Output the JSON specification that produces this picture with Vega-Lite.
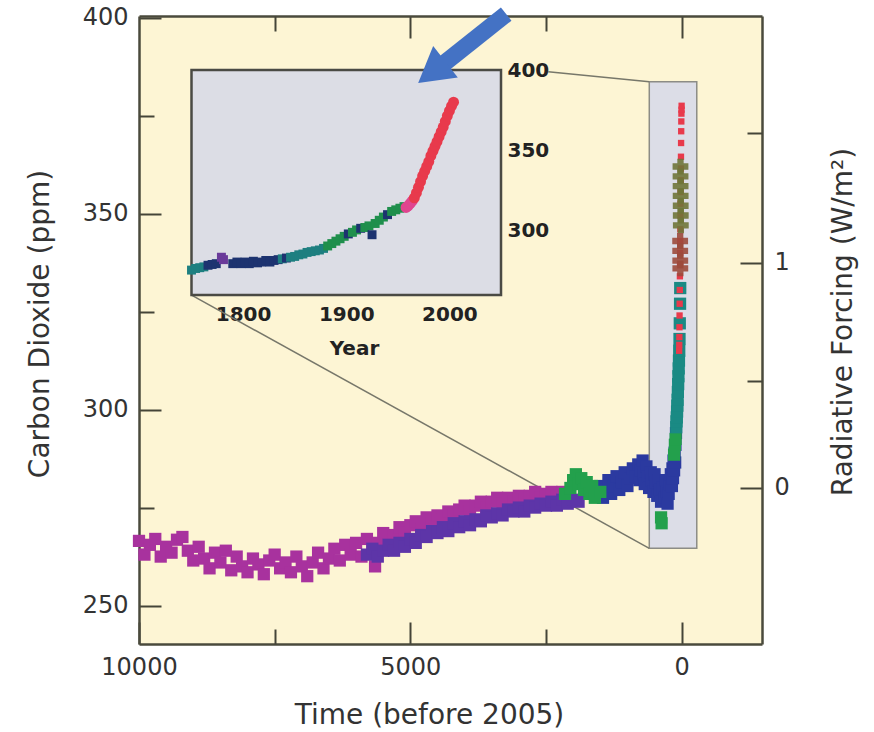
{
  "$schema": "https://vega.github.io/schema/vega-lite/v6.json",
  "width": 623,
  "height": 628,
  "autosize": {"type": "none"},
  "padding": {"left": 139, "top": 16, "right": 112, "bottom": 88},
  "background": "white",
  "config": {
    "view": {"fill": "#fdf5d4", "stroke": null},
    "axis": {"labelFont": "DejaVu Sans", "titleFont": "DejaVu Sans", "labelColor": "#333333", "titleColor": "#333333", "tickColor": "#444438", "domainColor": "#4a4a3c", "grid": false, "labelFlush": false, "labelOverlap": false, "zindex": 1, "tickWidth": 2, "domainWidth": 2.5}
  },
  "datasets": {
    "dummy": [{"t": 0, "co2": 300, "year": 1900}],
    "zoombox": [{"t": 597, "t2": -278, "co2": 264.6, "co2b": 383.6}],
    "connectors": [
      {"t": 2460, "co2": 386.2, "t2": 597, "co2b": 383.6},
      {"t": 9032, "co2": 329.2, "t2": 597, "co2b": 264.6}
    ],
    "main": [
      {"t": 10000, "co2": 266.5, "src": "epica"}, {"t": 9900, "co2": 263.0, "src": "epica"}, {"t": 9800, "co2": 265.5, "src": "epica"}, {"t": 9700, "co2": 267.0, "src": "epica"}, {"t": 9600, "co2": 262.5, "src": "epica"}, {"t": 9500, "co2": 265.0, "src": "epica"}, {"t": 9400, "co2": 263.5, "src": "epica"}, {"t": 9300, "co2": 266.8, "src": "epica"}, {"t": 9200, "co2": 267.5, "src": "epica"}, {"t": 9100, "co2": 264.0, "src": "epica"}, {"t": 9000, "co2": 261.5, "src": "epica"}, {"t": 8900, "co2": 265.0, "src": "epica"}, {"t": 8800, "co2": 262.0, "src": "epica"}, {"t": 8700, "co2": 259.5, "src": "epica"}, {"t": 8600, "co2": 263.5, "src": "epica"}, {"t": 8500, "co2": 261.0, "src": "epica"}, {"t": 8400, "co2": 264.0, "src": "epica"}, {"t": 8300, "co2": 259.0, "src": "epica"}, {"t": 8200, "co2": 262.5, "src": "epica"}, {"t": 8100, "co2": 260.0, "src": "epica"}, {"t": 8000, "co2": 258.5, "src": "epica"}, {"t": 7900, "co2": 262.0, "src": "epica"}, {"t": 7800, "co2": 260.5, "src": "epica"}, {"t": 7700, "co2": 258.0, "src": "epica"}, {"t": 7600, "co2": 261.5, "src": "epica"}, {"t": 7500, "co2": 263.0, "src": "epica"}, {"t": 7400, "co2": 259.5, "src": "epica"}, {"t": 7300, "co2": 261.0, "src": "epica"}, {"t": 7200, "co2": 258.5, "src": "epica"}, {"t": 7100, "co2": 262.5, "src": "epica"}, {"t": 7000, "co2": 260.0, "src": "epica"}, {"t": 6900, "co2": 257.5, "src": "epica"}, {"t": 6800, "co2": 261.0, "src": "epica"}, {"t": 6700, "co2": 263.5, "src": "epica"}, {"t": 6600, "co2": 259.5, "src": "epica"}, {"t": 6500, "co2": 262.0, "src": "epica"}, {"t": 6400, "co2": 264.5, "src": "epica"}, {"t": 6300, "co2": 261.5, "src": "epica"}, {"t": 6200, "co2": 265.5, "src": "epica"}, {"t": 6100, "co2": 263.0, "src": "epica"}, {"t": 6000, "co2": 266.0, "src": "epica"}, {"t": 5900, "co2": 262.5, "src": "epica"}, {"t": 5800, "co2": 267.0, "src": "epica"}, {"t": 5700, "co2": 264.5, "src": "epica"}, {"t": 5650, "co2": 260.0, "src": "epica"}, {"t": 5600, "co2": 266.0, "src": "epica"}, {"t": 5500, "co2": 268.5, "src": "epica"}, {"t": 5400, "co2": 265.5, "src": "epica"}, {"t": 5300, "co2": 268.0, "src": "epica"}, {"t": 5200, "co2": 270.0, "src": "epica"}, {"t": 5100, "co2": 268.5, "src": "epica"}, {"t": 5000, "co2": 270.5, "src": "epica"}, {"t": 4900, "co2": 271.5, "src": "epica"}, {"t": 4800, "co2": 269.5, "src": "epica"}, {"t": 4700, "co2": 272.5, "src": "epica"}, {"t": 4600, "co2": 271.0, "src": "epica"}, {"t": 4500, "co2": 273.0, "src": "epica"}, {"t": 4400, "co2": 272.0, "src": "epica"}, {"t": 4300, "co2": 274.0, "src": "epica"}, {"t": 4200, "co2": 273.0, "src": "epica"}, {"t": 4100, "co2": 274.5, "src": "epica"}, {"t": 4000, "co2": 275.5, "src": "epica"}, {"t": 3900, "co2": 274.0, "src": "epica"}, {"t": 3800, "co2": 275.5, "src": "epica"}, {"t": 3700, "co2": 276.5, "src": "epica"}, {"t": 3600, "co2": 275.0, "src": "epica"}, {"t": 3500, "co2": 276.5, "src": "epica"}, {"t": 3400, "co2": 277.5, "src": "epica"}, {"t": 3300, "co2": 276.0, "src": "epica"}, {"t": 3200, "co2": 277.5, "src": "epica"}, {"t": 3100, "co2": 276.5, "src": "epica"}, {"t": 3000, "co2": 278.0, "src": "epica"}, {"t": 2900, "co2": 277.0, "src": "epica"}, {"t": 2800, "co2": 278.0, "src": "epica"}, {"t": 2700, "co2": 279.0, "src": "epica"}, {"t": 2600, "co2": 277.5, "src": "epica"}, {"t": 2500, "co2": 278.5, "src": "epica"}, {"t": 2400, "co2": 279.0, "src": "epica"}, {"t": 2300, "co2": 278.0, "src": "epica"}, {"t": 2200, "co2": 279.0, "src": "epica"}, {"t": 2100, "co2": 278.0, "src": "epica"},
      {"t": 5800, "co2": 263.0, "src": "taylor"}, {"t": 5700, "co2": 264.5, "src": "taylor"}, {"t": 5600, "co2": 262.5, "src": "taylor"}, {"t": 5500, "co2": 264.0, "src": "taylor"}, {"t": 5400, "co2": 265.5, "src": "taylor"}, {"t": 5300, "co2": 264.0, "src": "taylor"}, {"t": 5200, "co2": 266.0, "src": "taylor"}, {"t": 5100, "co2": 265.0, "src": "taylor"}, {"t": 5000, "co2": 267.0, "src": "taylor"}, {"t": 4900, "co2": 266.0, "src": "taylor"}, {"t": 4800, "co2": 268.0, "src": "taylor"}, {"t": 4700, "co2": 267.5, "src": "taylor"}, {"t": 4600, "co2": 269.0, "src": "taylor"}, {"t": 4500, "co2": 268.5, "src": "taylor"}, {"t": 4400, "co2": 270.0, "src": "taylor"}, {"t": 4300, "co2": 269.0, "src": "taylor"}, {"t": 4200, "co2": 271.0, "src": "taylor"}, {"t": 4100, "co2": 270.0, "src": "taylor"}, {"t": 4000, "co2": 271.5, "src": "taylor"}, {"t": 3900, "co2": 270.5, "src": "taylor"}, {"t": 3800, "co2": 272.0, "src": "taylor"}, {"t": 3700, "co2": 271.5, "src": "taylor"}, {"t": 3600, "co2": 273.0, "src": "taylor"}, {"t": 3500, "co2": 272.5, "src": "taylor"}, {"t": 3400, "co2": 273.5, "src": "taylor"}, {"t": 3300, "co2": 273.0, "src": "taylor"}, {"t": 3200, "co2": 274.5, "src": "taylor"}, {"t": 3100, "co2": 274.0, "src": "taylor"}, {"t": 3000, "co2": 275.0, "src": "taylor"}, {"t": 2900, "co2": 274.0, "src": "taylor"}, {"t": 2800, "co2": 275.5, "src": "taylor"}, {"t": 2700, "co2": 275.0, "src": "taylor"}, {"t": 2600, "co2": 276.0, "src": "taylor"}, {"t": 2500, "co2": 275.5, "src": "taylor"}, {"t": 2400, "co2": 276.5, "src": "taylor"}, {"t": 2300, "co2": 275.5, "src": "taylor"}, {"t": 2200, "co2": 277.0, "src": "taylor"}, {"t": 2100, "co2": 276.0, "src": "taylor"}, {"t": 2000, "co2": 277.0, "src": "taylor"}, {"t": 1900, "co2": 276.5, "src": "taylor"},
      {"t": 1550, "co2": 278.0, "src": "lawdome"}, {"t": 1500, "co2": 280.5, "src": "lawdome"}, {"t": 1450, "co2": 277.5, "src": "lawdome"}, {"t": 1400, "co2": 279.5, "src": "lawdome"}, {"t": 1350, "co2": 282.0, "src": "lawdome"}, {"t": 1300, "co2": 278.5, "src": "lawdome"}, {"t": 1250, "co2": 280.5, "src": "lawdome"}, {"t": 1200, "co2": 283.0, "src": "lawdome"}, {"t": 1150, "co2": 279.5, "src": "lawdome"}, {"t": 1100, "co2": 281.5, "src": "lawdome"}, {"t": 1050, "co2": 284.0, "src": "lawdome"}, {"t": 1000, "co2": 280.5, "src": "lawdome"}, {"t": 950, "co2": 282.5, "src": "lawdome"}, {"t": 900, "co2": 285.0, "src": "lawdome"}, {"t": 850, "co2": 283.0, "src": "lawdome"}, {"t": 800, "co2": 286.0, "src": "lawdome"}, {"t": 780, "co2": 282.0, "src": "lawdome"}, {"t": 750, "co2": 284.5, "src": "lawdome"}, {"t": 720, "co2": 287.0, "src": "lawdome"}, {"t": 700, "co2": 283.5, "src": "lawdome"}, {"t": 680, "co2": 281.0, "src": "lawdome"}, {"t": 650, "co2": 285.5, "src": "lawdome"}, {"t": 620, "co2": 283.0, "src": "lawdome"}, {"t": 600, "co2": 280.0, "src": "lawdome"}, {"t": 570, "co2": 284.0, "src": "lawdome"}, {"t": 550, "co2": 282.0, "src": "lawdome"}, {"t": 520, "co2": 279.0, "src": "lawdome"}, {"t": 500, "co2": 283.5, "src": "lawdome"}, {"t": 480, "co2": 281.5, "src": "lawdome"}, {"t": 450, "co2": 278.0, "src": "lawdome"}, {"t": 420, "co2": 282.0, "src": "lawdome"}, {"t": 400, "co2": 279.5, "src": "lawdome"}, {"t": 380, "co2": 276.5, "src": "lawdome"}, {"t": 350, "co2": 280.0, "src": "lawdome"}, {"t": 320, "co2": 277.5, "src": "lawdome"}, {"t": 300, "co2": 282.0, "src": "lawdome"}, {"t": 280, "co2": 279.0, "src": "lawdome"}, {"t": 260, "co2": 276.0, "src": "lawdome"}, {"t": 240, "co2": 278.5, "src": "lawdome"}, {"t": 220, "co2": 281.0, "src": "lawdome"}, {"t": 200, "co2": 283.5, "src": "lawdome"}, {"t": 180, "co2": 280.5, "src": "lawdome"}, {"t": 170, "co2": 285.0, "src": "lawdome"}, {"t": 160, "co2": 282.5, "src": "lawdome"}, {"t": 150, "co2": 287.0, "src": "lawdome"}, {"t": 140, "co2": 284.5, "src": "lawdome"}, {"t": 130, "co2": 289.0, "src": "lawdome"}, {"t": 120, "co2": 286.5, "src": "lawdome"}, {"t": 115, "co2": 291.0, "src": "lawdome"}, {"t": 105, "co2": 294.0, "src": "lawdome"},
      {"t": 2150, "co2": 278.5, "src": "green"}, {"t": 2050, "co2": 280.0, "src": "green"}, {"t": 2000, "co2": 282.0, "src": "green"}, {"t": 1950, "co2": 283.5, "src": "green"}, {"t": 1900, "co2": 281.0, "src": "green"}, {"t": 1850, "co2": 282.5, "src": "green"}, {"t": 1800, "co2": 279.5, "src": "green"}, {"t": 1750, "co2": 281.5, "src": "green"}, {"t": 1700, "co2": 278.5, "src": "green"}, {"t": 1650, "co2": 280.5, "src": "green"}, {"t": 1600, "co2": 277.5, "src": "green"}, {"t": 1500, "co2": 279.0, "src": "green"}, {"t": 380, "co2": 272.5, "src": "green"}, {"t": 370, "co2": 271.0, "src": "green"}, {"t": 140, "co2": 288.5, "src": "green"}, {"t": 125, "co2": 291.0, "src": "green"}, {"t": 112, "co2": 292.5, "src": "green"},
      {"t": 100, "co2": 295.5, "src": "teal"}, {"t": 95, "co2": 297.0, "src": "teal"}, {"t": 90, "co2": 298.0, "src": "teal"}, {"t": 85, "co2": 299.5, "src": "teal"}, {"t": 80, "co2": 301.0, "src": "teal"}, {"t": 75, "co2": 302.5, "src": "teal"}, {"t": 70, "co2": 304.5, "src": "teal"}, {"t": 65, "co2": 306.5, "src": "teal"}, {"t": 60, "co2": 308.5, "src": "teal"}, {"t": 55, "co2": 310.5, "src": "teal"}, {"t": 50, "co2": 312.5, "src": "teal"}, {"t": 45, "co2": 315.0, "src": "teal"}, {"t": 40, "co2": 318.0, "src": "teal"}, {"t": 35, "co2": 322.0, "src": "teal"}, {"t": 30, "co2": 327.0, "src": "teal"}, {"t": 27, "co2": 331.0, "src": "teal"}
    ],
    "spike": [
      {"t": 47, "co2": 315.0, "src": "red"}, {"t": 45, "co2": 316.5, "src": "red"}, {"t": 43, "co2": 318.5, "src": "red"}, {"t": 41, "co2": 321.0, "src": "red"}, {"t": 39, "co2": 324.0, "src": "red"}, {"t": 37, "co2": 327.0, "src": "red"}, {"t": 35, "co2": 330.5, "src": "red"}, {"t": 33, "co2": 334.0, "src": "red"}, {"t": 31, "co2": 337.0, "src": "red"}, {"t": 29, "co2": 340.0, "src": "red"}, {"t": 27, "co2": 343.0, "src": "red"}, {"t": 25, "co2": 346.0, "src": "red"}, {"t": 23, "co2": 349.5, "src": "red"}, {"t": 21, "co2": 352.5, "src": "red"}, {"t": 19, "co2": 355.5, "src": "red"}, {"t": 17, "co2": 358.5, "src": "red"}, {"t": 15, "co2": 361.5, "src": "red"}, {"t": 13, "co2": 364.5, "src": "red"}, {"t": 11, "co2": 368.0, "src": "red"}, {"t": 9, "co2": 371.0, "src": "red"}, {"t": 7, "co2": 373.5, "src": "red"}, {"t": 5, "co2": 375.5, "src": "red"}, {"t": 3, "co2": 376.5, "src": "red"}, {"t": 1, "co2": 377.5, "src": "red"}
    ],
    "crosses": [
      {"t": 22, "co2": 362.0, "src": "olive"}, {"t": 21, "co2": 359.5, "src": "olive"}, {"t": 20, "co2": 357.0, "src": "olive"}, {"t": 19, "co2": 354.5, "src": "olive"}, {"t": 18, "co2": 352.0, "src": "olive"}, {"t": 17, "co2": 349.5, "src": "olive"}, {"t": 16, "co2": 347.0, "src": "olive"},
      {"t": 28, "co2": 343.0, "src": "brown"}, {"t": 27, "co2": 340.5, "src": "brown"}, {"t": 26, "co2": 338.0, "src": "brown"}, {"t": 25, "co2": 336.0, "src": "brown"}
    ],
    "insetbox": [{"year": 1750, "year2": 2050, "co2": 260, "co2b": 400}],
    "inset": [
      {"year": 1750, "co2": 275.5, "src": "iteal"}, {"year": 1754, "co2": 276.5, "src": "iteal"}, {"year": 1758, "co2": 277.0, "src": "iteal"}, {"year": 1762, "co2": 277.5, "src": "iteal"}, {"year": 1766, "co2": 278.5, "src": "inavy"}, {"year": 1770, "co2": 279.0, "src": "inavy"}, {"year": 1774, "co2": 279.5, "src": "inavy"}, {"year": 1779, "co2": 283.5, "src": "ipurple"}, {"year": 1781, "co2": 282.0, "src": "ipurple"},
      {"year": 1790, "co2": 279.5, "src": "inavy"}, {"year": 1794, "co2": 280.5, "src": "inavy"}, {"year": 1798, "co2": 279.5, "src": "inavy"}, {"year": 1802, "co2": 280.5, "src": "inavy"}, {"year": 1806, "co2": 279.5, "src": "inavy"}, {"year": 1810, "co2": 281.0, "src": "inavy"}, {"year": 1814, "co2": 280.0, "src": "inavy"}, {"year": 1818, "co2": 280.5, "src": "inavy"}, {"year": 1822, "co2": 281.5, "src": "inavy"}, {"year": 1826, "co2": 280.5, "src": "inavy"}, {"year": 1830, "co2": 281.5, "src": "inavy"}, {"year": 1834, "co2": 282.0, "src": "inavy"}, {"year": 1838, "co2": 282.5, "src": "iteal"}, {"year": 1842, "co2": 283.0, "src": "inavy"}, {"year": 1846, "co2": 283.5, "src": "iteal"},
      {"year": 1850, "co2": 284.0, "src": "iteal"}, {"year": 1854, "co2": 285.0, "src": "iteal"}, {"year": 1858, "co2": 285.5, "src": "iteal"}, {"year": 1862, "co2": 286.5, "src": "iteal"}, {"year": 1866, "co2": 287.0, "src": "iteal"}, {"year": 1870, "co2": 287.5, "src": "iteal"}, {"year": 1874, "co2": 288.0, "src": "iteal"}, {"year": 1878, "co2": 289.0, "src": "iteal"}, {"year": 1882, "co2": 290.5, "src": "igreen"}, {"year": 1886, "co2": 292.0, "src": "igreen"}, {"year": 1890, "co2": 293.5, "src": "igreen"}, {"year": 1894, "co2": 295.0, "src": "igreen"}, {"year": 1898, "co2": 296.5, "src": "igreen"}, {"year": 1902, "co2": 298.0, "src": "inavy"}, {"year": 1906, "co2": 299.0, "src": "igreen"}, {"year": 1910, "co2": 300.5, "src": "igreen"}, {"year": 1914, "co2": 301.5, "src": "inavy"}, {"year": 1918, "co2": 302.0, "src": "igreen"}, {"year": 1922, "co2": 303.0, "src": "igreen"}, {"year": 1925, "co2": 297.5, "src": "inavy"}, {"year": 1928, "co2": 304.5, "src": "igreen"}, {"year": 1932, "co2": 306.5, "src": "igreen"}, {"year": 1936, "co2": 308.5, "src": "igreen"}, {"year": 1940, "co2": 310.0, "src": "inavy"}, {"year": 1944, "co2": 312.0, "src": "igreen"}, {"year": 1948, "co2": 313.0, "src": "igreen"}, {"year": 1952, "co2": 314.0, "src": "igreen"}, {"year": 1956, "co2": 315.0, "src": "igreen"}
    ],
    "insetred": [
      {"year": 1958, "co2": 314.5, "src": "pink"}, {"year": 1960, "co2": 315.5, "src": "pink"}, {"year": 1962, "co2": 317.0, "src": "pink"}, {"year": 1964, "co2": 318.5, "src": "pink"}, {"year": 1966, "co2": 320.5, "src": "red"}, {"year": 1968, "co2": 323.5, "src": "red"}, {"year": 1970, "co2": 327.0, "src": "red"}, {"year": 1972, "co2": 330.5, "src": "red"}, {"year": 1974, "co2": 334.0, "src": "red"}, {"year": 1976, "co2": 337.0, "src": "red"}, {"year": 1978, "co2": 340.0, "src": "red"}, {"year": 1980, "co2": 343.0, "src": "red"}, {"year": 1982, "co2": 346.5, "src": "red"}, {"year": 1984, "co2": 349.5, "src": "red"}, {"year": 1986, "co2": 352.5, "src": "red"}, {"year": 1988, "co2": 355.5, "src": "red"}, {"year": 1990, "co2": 358.5, "src": "red"}, {"year": 1992, "co2": 361.5, "src": "red"}, {"year": 1994, "co2": 364.5, "src": "red"}, {"year": 1996, "co2": 368.0, "src": "red"}, {"year": 1998, "co2": 371.5, "src": "red"}, {"year": 2000, "co2": 374.5, "src": "red"}, {"year": 2002, "co2": 377.5, "src": "red"}, {"year": 2004, "co2": 380.0, "src": "red"}
    ],
    "arrowshaft": [{"t": 3234, "co2": 400.9, "t2": 4487, "co2b": 387.1}],
    "arrowhead": [{"t": 4604, "co2": 386.0}]
  },
  "resolve": {"scale": {"x": "independent", "y": "independent"}, "axis": {"x": "independent", "y": "independent"}},
  "layer": [
    {
      "encoding": {
        "x": {"field": "t", "type": "quantitative", "scale": {"domain": [-1480, 10000], "reverse": true, "nice": false, "zero": false},
          "axis": {"orient": "bottom", "values": [10000, 5000, 0], "format": "d", "tickSize": -22, "labelPadding": 33, "labelFontSize": 24, "title": "Time (before 2005)", "titleFontSize": 28, "titleFontWeight": "normal", "titleX": 290, "titleY": 79, "titleBaseline": "alphabetic", "titleAlign": "center"}},
        "y": {"field": "co2", "type": "quantitative", "scale": {"domain": [240.2, 400.4], "nice": false, "zero": false},
          "axis": {"orient": "left", "values": [250, 300, 350, 400], "tickSize": -22, "labelPadding": 33, "labelFontSize": 24, "title": "Carbon Dioxide (ppm)", "titleFontSize": 28, "titleFontWeight": "normal", "titleX": -99, "titleY": 307.5, "titleAngle": -90, "titleBaseline": "middle", "titleAlign": "center"}}
      },
      "layer": [
        {"data": {"name": "zoombox"}, "mark": {"type": "rect", "fill": "#dcdde7", "stroke": "#8c8c86", "strokeWidth": 1.5}, "encoding": {"x2": {"field": "t2"}, "y2": {"field": "co2b"}}},
        {"data": {"name": "connectors"}, "mark": {"type": "rule", "stroke": "#77776a", "strokeWidth": 1.5}, "encoding": {"x2": {"field": "t2"}, "y2": {"field": "co2b"}}},
        {"data": {"name": "main"}, "mark": {"type": "point", "shape": "square", "filled": true, "size": 150, "opacity": 1},
          "encoding": {"color": {"field": "src", "type": "nominal", "legend": null, "scale": {"domain": ["epica", "taylor", "green", "lawdome", "teal", "red", "pink", "olive", "brown", "inavy", "iteal", "igreen", "ipurple"], "range": ["#a8329e", "#5d35a8", "#23a04c", "#2b3aa0", "#1a8a84", "#e83a4c", "#e0458f", "#6f7638", "#9c4a3c", "#1d3370", "#1e7f80", "#1f8f4c", "#6a3a9a"]}}}},
        {"data": {"name": "spike"}, "mark": {"type": "point", "shape": "square", "filled": true, "size": 40, "opacity": 1},
          "encoding": {"color": {"field": "src", "type": "nominal", "legend": null, "scale": {"domain": ["epica", "taylor", "green", "lawdome", "teal", "red", "pink", "olive", "brown", "inavy", "iteal", "igreen", "ipurple"], "range": ["#a8329e", "#5d35a8", "#23a04c", "#2b3aa0", "#1a8a84", "#e83a4c", "#e0458f", "#6f7638", "#9c4a3c", "#1d3370", "#1e7f80", "#1f8f4c", "#6a3a9a"]}}}},
        {"data": {"name": "crosses"}, "mark": {"type": "point", "shape": "cross", "filled": true, "size": 250, "opacity": 0.9},
          "encoding": {"color": {"field": "src", "type": "nominal", "legend": null, "scale": {"domain": ["epica", "taylor", "green", "lawdome", "teal", "red", "pink", "olive", "brown", "inavy", "iteal", "igreen", "ipurple"], "range": ["#a8329e", "#5d35a8", "#23a04c", "#2b3aa0", "#1a8a84", "#e83a4c", "#e0458f", "#6f7638", "#9c4a3c", "#1d3370", "#1e7f80", "#1f8f4c", "#6a3a9a"]}}}}
      ]
    },
    {
      "data": {"name": "dummy"},
      "mark": {"type": "point", "opacity": 0},
      "encoding": {
        "x": {"field": "t", "type": "quantitative", "scale": {"domain": [-1480, 10000], "reverse": true, "nice": false, "zero": false},
          "axis": {"orient": "bottom", "values": [7500, 2500], "labels": false, "domain": false, "tickSize": -15, "title": null}},
        "y": {"field": "co2", "type": "quantitative", "scale": {"domain": [240.2, 400.4], "nice": false, "zero": false},
          "axis": {"orient": "left", "values": [275, 325, 375], "labels": false, "domain": false, "tickSize": -15, "title": null}}
      }
    },
    {
      "data": {"name": "dummy"},
      "mark": {"type": "point", "opacity": 0},
      "encoding": {
        "x": {"field": "t", "type": "quantitative", "scale": {"domain": [-1480, 10000], "reverse": true, "nice": false, "zero": false},
          "axis": {"orient": "top", "values": [5000, 0], "labels": false, "domain": true, "tickSize": -22, "title": null}},
        "y": {"field": "co2", "type": "quantitative", "scale": {"domain": [240.2, 400.4], "nice": false, "zero": false},
          "axis": {"orient": "right", "values": [280, 337.5], "labelExpr": "datum.value < 300 ? '0' : '1'", "domain": true, "tickSize": -22, "labelPadding": 34, "labelFontSize": 24, "title": "Radiative Forcing (W/m²)", "titleFontSize": 28, "titleFontWeight": "normal", "titleX": 81.5, "titleY": 305.5, "titleAngle": -90, "titleBaseline": "middle", "titleAlign": "center"}}
      }
    },
    {
      "data": {"name": "dummy"},
      "mark": {"type": "point", "opacity": 0},
      "encoding": {
        "x": {"field": "t", "type": "quantitative", "scale": {"domain": [-1480, 10000], "reverse": true, "nice": false, "zero": false},
          "axis": {"orient": "top", "values": [7500, 2500], "labels": false, "domain": false, "tickSize": -15, "title": null}},
        "y": {"field": "co2", "type": "quantitative", "scale": {"domain": [240.2, 400.4], "nice": false, "zero": false},
          "axis": {"orient": "right", "values": [307.4, 370.6], "labels": false, "domain": false, "tickSize": -15, "title": null}}
      }
    },
    {
      "encoding": {
        "x": {"field": "year", "type": "quantitative", "scale": {"domain": [1750, 2050], "range": [52.5, 362], "nice": false, "zero": false},
          "axis": {"orient": "bottom", "offset": -349, "values": [1800, 1900, 2000], "format": "d", "tickSize": -12, "labelPadding": 21, "labelFontSize": 20, "labelFontWeight": "bold", "labelColor": "#222222", "domain": false, "title": "Year", "titleFontSize": 20, "titleFontWeight": "bold", "titleColor": "#222222", "titleX": 215, "titleY": 59, "titleBaseline": "alphabetic", "titleAlign": "center"}},
        "y": {"field": "co2", "type": "quantitative", "scale": {"domain": [260, 400], "range": [279, 54], "nice": false, "zero": false},
          "axis": {"orient": "right", "offset": -261, "values": [300, 350, 400], "tickSize": -10, "labelPadding": 16, "labelFontSize": 20, "labelFontWeight": "bold", "labelColor": "#222222", "domain": false, "title": null}}
      },
      "layer": [
        {"data": {"name": "insetbox"}, "mark": {"type": "rect", "fill": "#dcdde5", "stroke": "#4a4a44", "strokeWidth": 2.5}, "encoding": {"x2": {"field": "year2"}, "y2": {"field": "co2b"}}},
        {"data": {"name": "inset"}, "mark": {"type": "point", "shape": "square", "filled": true, "size": 80, "opacity": 1},
          "encoding": {"color": {"field": "src", "type": "nominal", "legend": null, "scale": {"domain": ["epica", "taylor", "green", "lawdome", "teal", "red", "pink", "olive", "brown", "inavy", "iteal", "igreen", "ipurple"], "range": ["#a8329e", "#5d35a8", "#23a04c", "#2b3aa0", "#1a8a84", "#e83a4c", "#e0458f", "#6f7638", "#9c4a3c", "#1d3370", "#1e7f80", "#1f8f4c", "#6a3a9a"]}}}},
        {"data": {"name": "insetred"}, "mark": {"type": "circle", "size": 120, "opacity": 1},
          "encoding": {"color": {"field": "src", "type": "nominal", "legend": null, "scale": {"domain": ["epica", "taylor", "green", "lawdome", "teal", "red", "pink", "olive", "brown", "inavy", "iteal", "igreen", "ipurple"], "range": ["#a8329e", "#5d35a8", "#23a04c", "#2b3aa0", "#1a8a84", "#e83a4c", "#e0458f", "#6f7638", "#9c4a3c", "#1d3370", "#1e7f80", "#1f8f4c", "#6a3a9a"]}}}}
      ]
    },
    {
      "data": {"name": "dummy"},
      "mark": {"type": "point", "opacity": 0},
      "encoding": {
        "x": {"field": "year", "type": "quantitative", "scale": {"domain": [1750, 2050], "range": [52.5, 362], "nice": false, "zero": false},
          "axis": {"orient": "bottom", "offset": -349, "values": [1850, 1950], "labels": false, "domain": false, "tickSize": -7, "title": null}},
        "y": {"field": "co2", "type": "quantitative", "scale": {"domain": [260, 400], "range": [279, 54], "nice": false, "zero": false},
          "axis": {"orient": "right", "offset": -261, "values": [275, 325, 375], "labels": false, "domain": false, "tickSize": -7, "title": null}}
      }
    },
    {
      "data": {"name": "dummy"},
      "mark": {"type": "point", "opacity": 0},
      "encoding": {
        "x": {"field": "year", "type": "quantitative", "scale": {"domain": [1750, 2050], "range": [52.5, 362], "nice": false, "zero": false},
          "axis": {"orient": "top", "offset": -54, "values": [1800, 1900, 2000], "labels": false, "domain": false, "tickSize": -12, "title": null}},
        "y": {"field": "co2", "type": "quantitative", "scale": {"domain": [260, 400], "range": [279, 54], "nice": false, "zero": false},
          "axis": {"orient": "left", "offset": -52.5, "values": [300, 350], "labels": false, "domain": false, "tickSize": -12, "title": null}}
      }
    },
    {
      "data": {"name": "dummy"},
      "mark": {"type": "point", "opacity": 0},
      "encoding": {
        "x": {"field": "year", "type": "quantitative", "scale": {"domain": [1750, 2050], "range": [52.5, 362], "nice": false, "zero": false},
          "axis": {"orient": "top", "offset": -54, "values": [1850, 1950], "labels": false, "domain": false, "tickSize": -7, "title": null}},
        "y": {"field": "co2", "type": "quantitative", "scale": {"domain": [260, 400], "range": [279, 54], "nice": false, "zero": false},
          "axis": {"orient": "left", "offset": -52.5, "values": [275, 325, 375], "labels": false, "domain": false, "tickSize": -7, "title": null}}
      }
    },
    {
      "encoding": {
        "x": {"field": "t", "type": "quantitative", "scale": {"domain": [-1480, 10000], "reverse": true, "nice": false, "zero": false}, "axis": null},
        "y": {"field": "co2", "type": "quantitative", "scale": {"domain": [240.2, 400.4], "nice": false, "zero": false}, "axis": null}
      },
      "layer": [
        {"data": {"name": "arrowshaft"}, "mark": {"type": "rule", "stroke": "#4472c4", "strokeWidth": 17, "strokeCap": "butt"}, "encoding": {"x2": {"field": "t2"}, "y2": {"field": "co2b"}}},
        {"data": {"name": "arrowhead"}, "mark": {"type": "point", "shape": "triangle-up", "filled": true, "size": 1600, "angle": 232, "color": "#4472c4", "opacity": 1, "strokeWidth": 0}}
      ]
    }
  ]
}
